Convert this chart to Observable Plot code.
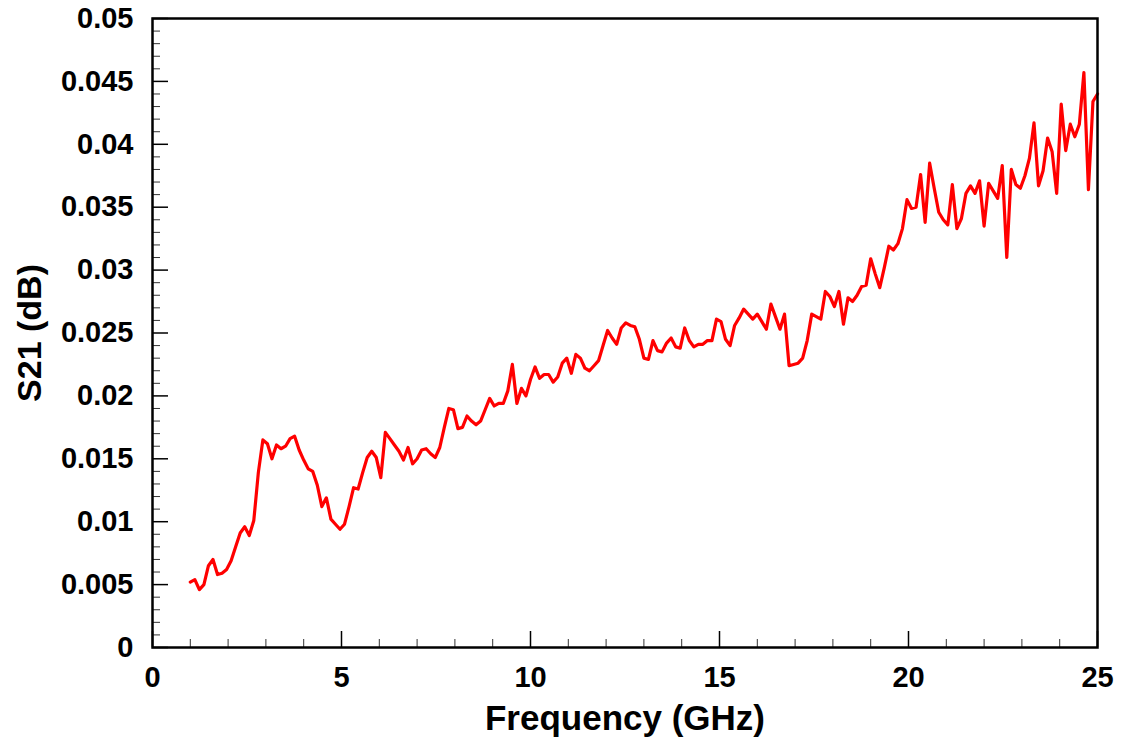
<!DOCTYPE html>
<html>
<head>
<meta charset="utf-8">
<script src="https://cdn.jsdelivr.net/npm/d3@7"></script>
<script src="https://cdn.jsdelivr.net/npm/@observablehq/plot@0.6"></script>
<style>
  html, body { margin: 0; padding: 0; background: #fff; }
  #chart svg { display: block; }
</style>
</head>
<body>
<div id="chart"></div>
<script>
// Frequency sweep (GHz)
const frequency = [
  1, 1.12, 1.24, 1.36, 1.48, 1.6, 1.72, 1.84, 1.96, 2.08, 2.2, 2.32, 2.44, 2.56, 2.68, 2.8, 2.92, 3.04, 3.16, 3.28, 3.4, 3.52, 3.64, 3.76, 3.88,
  4, 4.12, 4.24, 4.36, 4.48, 4.6, 4.72, 4.84, 4.96, 5.08, 5.2, 5.32, 5.44, 5.56, 5.68, 5.8, 5.92, 6.04, 6.16, 6.28, 6.4, 6.52, 6.64, 6.76, 6.88,
  7, 7.12, 7.24, 7.36, 7.48, 7.6, 7.72, 7.84, 7.96, 8.08, 8.2, 8.32, 8.44, 8.56, 8.68, 8.8, 8.92, 9.04, 9.16, 9.28, 9.4, 9.52, 9.64, 9.76, 9.88,
  10, 10.12, 10.24, 10.36, 10.48, 10.6, 10.72, 10.84, 10.96, 11.08, 11.2, 11.32, 11.44, 11.56, 11.68, 11.8, 11.92, 12.04, 12.16, 12.28, 12.4, 12.52, 12.64, 12.76, 12.88,
  13, 13.12, 13.24, 13.36, 13.48, 13.6, 13.72, 13.84, 13.96, 14.08, 14.2, 14.32, 14.44, 14.56, 14.68, 14.8, 14.92, 15.04, 15.16, 15.28, 15.4, 15.52, 15.64, 15.76, 15.88,
  16, 16.12, 16.24, 16.36, 16.48, 16.6, 16.72, 16.84, 16.96, 17.08, 17.2, 17.32, 17.44, 17.56, 17.68, 17.8, 17.92, 18.04, 18.16, 18.28, 18.4, 18.52, 18.64, 18.76, 18.88,
  19, 19.12, 19.24, 19.36, 19.48, 19.6, 19.72, 19.84, 19.96, 20.08, 20.2, 20.32, 20.44, 20.56, 20.68, 20.8, 20.92, 21.04, 21.16, 21.28, 21.4, 21.52, 21.64, 21.76, 21.88,
  22, 22.12, 22.24, 22.36, 22.48, 22.6, 22.72, 22.84, 22.96, 23.08, 23.2, 23.32, 23.44, 23.56, 23.68, 23.8, 23.92, 24.04, 24.16, 24.28, 24.4, 24.52, 24.64, 24.76, 24.88,
  25
];

// S21 (dB)
const s21 = [
  0.0052, 0.0054, 0.0046, 0.0050, 0.0065, 0.0070, 0.0058, 0.0059, 0.0062, 0.0069, 0.0080, 0.0091, 0.0096, 0.0089, 0.0101, 0.0139, 0.0165, 0.0162, 0.0150, 0.0161, 0.0158, 0.0160, 0.0166, 0.0168, 0.0157,
  0.0149, 0.0142, 0.0140, 0.0129, 0.0112, 0.0119, 0.0102, 0.0098, 0.0094, 0.0098, 0.0112, 0.0127, 0.0126, 0.0139, 0.0151, 0.0156, 0.0151, 0.0135, 0.0171, 0.0166, 0.0161, 0.0156, 0.0149, 0.0159, 0.0146,
  0.0150, 0.0157, 0.0158, 0.0154, 0.0151, 0.0159, 0.0175, 0.0190, 0.0189, 0.0174, 0.0175, 0.0184, 0.0180, 0.0177, 0.0180, 0.0189, 0.0198, 0.0192, 0.0194, 0.0194, 0.0204, 0.0225, 0.0194, 0.0206, 0.0200,
  0.0213, 0.0223, 0.0214, 0.0217, 0.0217, 0.0211, 0.0215, 0.0226, 0.0230, 0.0218, 0.0233, 0.0230, 0.0222, 0.0220, 0.0224, 0.0228, 0.0240, 0.0252, 0.0246, 0.0241, 0.0254, 0.0258, 0.0256, 0.0255, 0.0245,
  0.0230, 0.0229, 0.0244, 0.0236, 0.0235, 0.0242, 0.0246, 0.0239, 0.0238, 0.0254, 0.0244, 0.0239, 0.0241, 0.0241, 0.0244, 0.0244, 0.0261, 0.0259, 0.0245, 0.0240, 0.0256, 0.0262, 0.0269, 0.0265, 0.0261,
  0.0265, 0.0259, 0.0253, 0.0273, 0.0263, 0.0253, 0.0265, 0.0224, 0.0225, 0.0226, 0.0230, 0.0244, 0.0265, 0.0263, 0.0261, 0.0283, 0.0279, 0.0271, 0.0283, 0.0257, 0.0278, 0.0275, 0.0280, 0.0287, 0.0288,
  0.0309, 0.0297, 0.0286, 0.0302, 0.0319, 0.0316, 0.0321, 0.0333, 0.0356, 0.0349, 0.0350, 0.0376, 0.0338, 0.0385, 0.0365, 0.0346, 0.0340, 0.0336, 0.0368, 0.0333, 0.0341, 0.0361, 0.0367, 0.0361, 0.0371,
  0.0335, 0.0369, 0.0363, 0.0357, 0.0383, 0.0310, 0.0380, 0.0368, 0.0365, 0.0375, 0.0389, 0.0417, 0.0367, 0.0379, 0.0405, 0.0394, 0.0361, 0.0432, 0.0395, 0.0416, 0.0406, 0.0416, 0.0457, 0.0364, 0.0434,
  0.0440
];

const xMajorTicks = [0, 5, 10, 15, 20, 25];
const xMinorTicks = [1, 2, 3, 4, 6, 7, 8, 9, 11, 12, 13, 14, 16, 17, 18, 19, 21, 22, 23, 24];
const yMajorTicks = [0, 0.005, 0.01, 0.015, 0.02, 0.025, 0.03, 0.035, 0.04, 0.045, 0.05];
const yMinorTicks = [
  0.001, 0.002, 0.003, 0.004, 0.006, 0.007, 0.008, 0.009, 0.011, 0.012, 0.013, 0.014,
  0.016, 0.017, 0.018, 0.019, 0.021, 0.022, 0.023, 0.024, 0.026, 0.027, 0.028, 0.029,
  0.031, 0.032, 0.033, 0.034, 0.036, 0.037, 0.038, 0.039, 0.041, 0.042, 0.043, 0.044,
  0.046, 0.047, 0.048, 0.049
];
const xLabel = "Frequency (GHz)";
const yLabel = "S21 (dB)";

const data = frequency.map((f, i) => ({f, s: s21[i]}));

const W = 1125, H = 746;
const mTop = 18, mBottom = 99, mLeft = 152, mRight = 28;
const innerH = H - mTop - mBottom, innerW = W - mLeft - mRight;
const majorLen = 16, minorLen = 8;

const chart = Plot.plot({
  width: W,
  height: H,
  marginTop: mTop,
  marginBottom: mBottom,
  marginLeft: mLeft,
  marginRight: mRight,
  style: {
    fontFamily: "'Liberation Sans', Arial, Helvetica, sans-serif",
    fontWeight: "bold",
    color: "black",
    background: "white"
  },
  x: {domain: [0, 25]},
  y: {domain: [0, 0.05]},
  marks: [
    Plot.tickX(xMinorTicks, {x: d => d, insetTop: innerH - minorLen, stroke: "#333", strokeWidth: 1}),
    Plot.tickX(xMajorTicks, {x: d => d, insetTop: innerH - majorLen, stroke: "black", strokeWidth: 1.5}),
    Plot.tickY(yMinorTicks, {y: d => d, insetRight: innerW - minorLen, stroke: "#333", strokeWidth: 1}),
    Plot.tickY(yMajorTicks, {y: d => d, insetRight: innerW - majorLen, stroke: "black", strokeWidth: 1.5}),
    Plot.line(data, {x: "f", y: "s", stroke: "#ff0000", strokeWidth: 3.2}),
    Plot.frame({stroke: "black", strokeWidth: 2.5}),
    Plot.axisX(xMajorTicks, {tickSize: 0, tickPadding: 19, fontSize: 29, fontWeight: "bold", label: null, tickFormat: d => String(d)}),
    Plot.axisY(yMajorTicks, {tickSize: 0, tickPadding: 19, fontSize: 29, fontWeight: "bold", label: null, tickFormat: d => String(d)}),
    Plot.text([xLabel], {text: d => d, frameAnchor: "bottom", dy: 71, fontSize: 35, fontWeight: "bold", fill: "black", lineAnchor: "middle"}),
    Plot.text([yLabel], {text: d => d, frameAnchor: "left", dx: -122, rotate: -90, fontSize: 34, fontWeight: "bold", fill: "black", lineAnchor: "middle", textAnchor: "middle"})
  ]
});
document.getElementById("chart").appendChild(chart);
</script>
</body>
</html>
